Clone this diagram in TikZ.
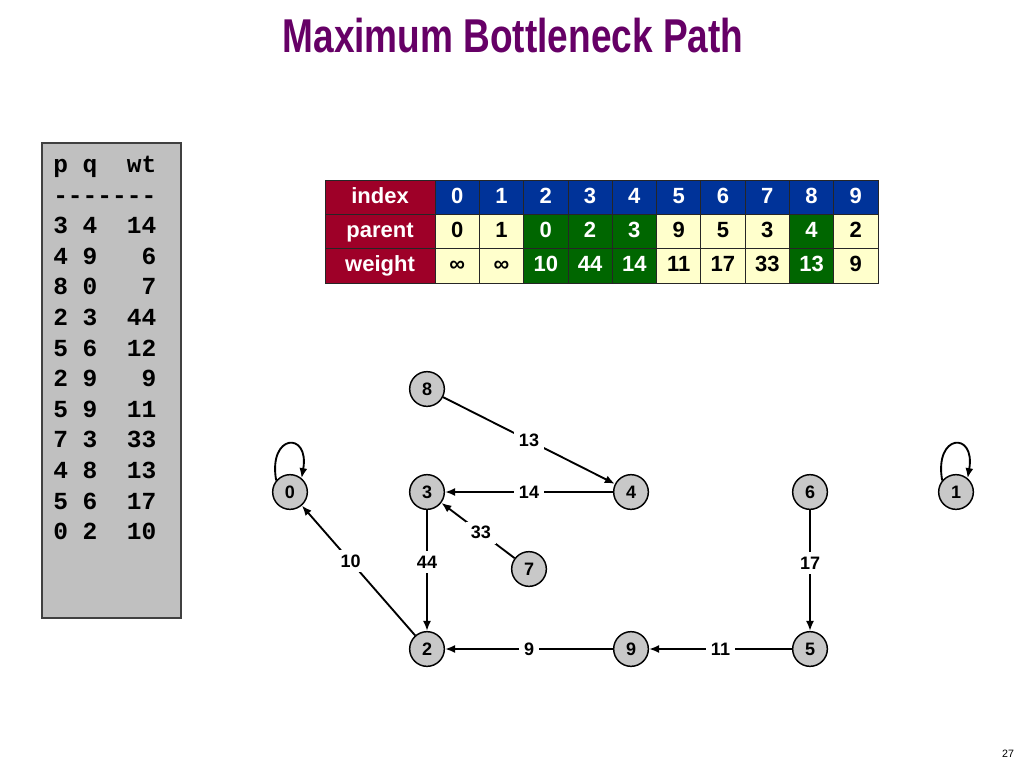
\documentclass[tikz,border=0pt]{standalone}
\usepackage{fontspec}
\setmainfont{Liberation Sans}
\setsansfont{Liberation Sans}
\setmonofont{Liberation Mono}
\newfontfamily\titlefont[FakeStretch=0.78]{Liberation Sans}
\usetikzlibrary{arrows.meta}
\definecolor{titlepurple}{HTML}{660066}
\definecolor{cellred}{HTML}{9E0028}
\definecolor{cellblue}{HTML}{003399}
\definecolor{cellgreen}{HTML}{006600}
\definecolor{cellcream}{HTML}{FFFFCC}
\definecolor{nodegray}{HTML}{C8C8C8}
\definecolor{panelgray}{HTML}{C0C0C0}

\begin{document}
\begin{tikzpicture}[x=0.75pt, y=-0.75pt,
    main node/.style={circle,draw,fill=nodegray,line width=1.1pt,minimum size=26pt,inner sep=0pt,
                      font=\sffamily\fontsize{13.5}{15}\selectfont\bfseries},
    cell/.style={rectangle,draw=black!85,line width=0.5pt,minimum width=33.2pt,minimum height=25.7pt,
                 inner sep=0pt,text height=12pt,text depth=3.2pt,
                 font=\sffamily\fontsize{16.5}{18}\selectfont\bfseries},
    headcell/.style={cell,fill=cellblue,text=white},
    keycell/.style={cell,fill=cellred,text=white,minimum width=82.5pt},
    plaincell/.style={cell,fill=cellcream,text=black},
    donecell/.style={cell,fill=cellgreen,text=white},
    list line/.style={anchor=base west,inner sep=0pt,font=\ttfamily\fontsize{18.4}{20}\selectfont\bfseries}]
  \useasboundingbox (0,0) rectangle (1024,768);

  \node[anchor=base,text=titlepurple,font=\titlefont\fontsize{35.6}{40}\selectfont\bfseries]
    (title) at (513,52) {Maximum Bottleneck Path};

  % edge list
  \node[draw=black!75,fill=panelgray,line width=1.2pt,minimum width=104.25pt,minimum height=356.25pt,
        inner sep=0pt] (panel) at (111.5,380.5) {};
  \foreach \txt [count=\k from 0] in {p~q~~wt,-------,3~4~~14,4~9~~~6,8~0~~~7,2~3~~44,5~6~~12,
                                      2~9~~~9,5~9~~11,7~3~~33,4~8~~13,5~6~~17,0~2~~10}
    \node[list line] (line\k) at (53,{172.5+30.6*\k}) {\txt};

  % parent / weight table
  \node[keycell] (index) at (380,197.2) {index};
  \node[keycell] (parent) at (380,231.5) {parent};
  \node[keycell] (weight) at (380,265.8) {weight};
  \foreach \i/\p/\w/\s in {0/0/∞/plaincell,1/1/∞/plaincell,2/0/10/donecell,3/2/44/donecell,
                           4/3/14/donecell,5/9/11/plaincell,6/5/17/plaincell,7/3/33/plaincell,
                           8/4/13/donecell,9/2/9/plaincell} {
    \node[headcell] (idx\i) at ({457.15+44.3*\i},197.2) {\i};
    \node[\s] (par\i) at ({457.15+44.3*\i},231.5) {\p};
    \node[\s] (wt\i) at ({457.15+44.3*\i},265.8) {\w};
  }

  % graph
  \node[main node] (0) at (290,492) {0};
  \node[main node] (1) at (956,492) {1};
  \node[main node] (2) at (427,649) {2};
  \node[main node] (3) at (427,492) {3};
  \node[main node] (4) at (631,492) {4};
  \node[main node] (5) at (810,649) {5};
  \node[main node] (6) at (810,492) {6};
  \node[main node] (7) at (529,569) {7};
  \node[main node] (8) at (427,389) {8};
  \node[main node] (9) at (631,649) {9};
  \path[-{Latex[length=7.5pt,width=6pt]},line width=1.4pt,
        every node/.style={fill=white,inner sep=3.5pt,font=\sffamily\fontsize{13.5}{15}\selectfont\bfseries}]
    (8) edge node {13} (4)
    (4) edge node {14} (3)
    (7) edge node [pos=0.46] {33} (3)
    (3) edge node [pos=0.43] {44} (2)
    (2) edge node [pos=0.57] {10} (0)
    (9) edge node {9} (2)
    (5) edge node {11} (9)
    (6) edge node [pos=0.44] {17} (5)
    (0.140) edge [out=100,in=80,looseness=4.8] (0.50)
    (1.140) edge [out=100,in=80,looseness=4.8] (1.50);

  \node[font=\sffamily\fontsize{8}{9}\selectfont] (page) at (1008,754) {27};
\end{tikzpicture}
\end{document}
